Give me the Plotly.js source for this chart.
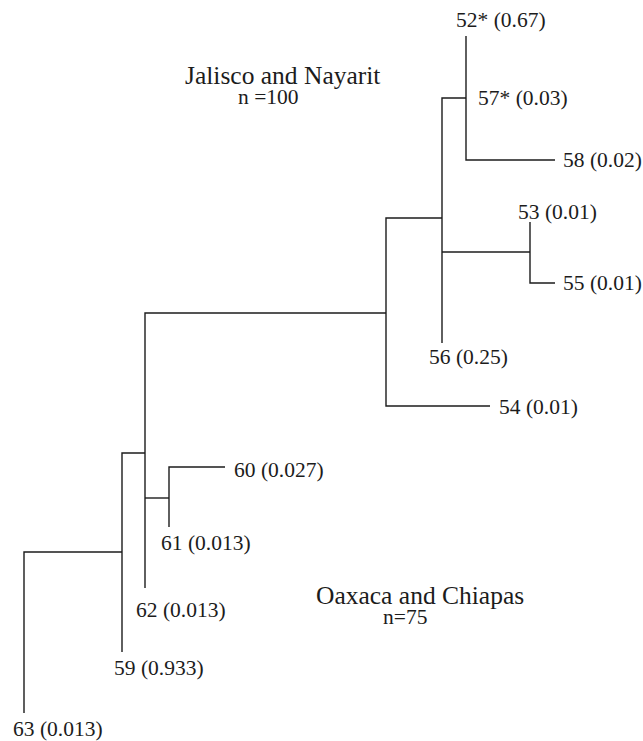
<!DOCTYPE html>
<html>
<head>
<meta charset="utf-8">
<script src="https://cdn.plot.ly/plotly-3.0.1.min.js"></script>
<style>html,body{margin:0;padding:0;background:#fff;}#chart{width:643px;height:741px;}</style>
</head>
<body>
<div id="chart"></div>
<script>
// Tree nodes (haplotypes and junctions), positions in drawing units
const nodeIds  = ['63','N1','59','N2','N3','62','N5','61','60','N4','54','N6','57','52','58','N7','56','N8','53','55'];
const nodeX    = [24, 122, 122, 145, 145, 145, 169, 169, 225, 386, 490, 442, 466, 466, 555, 442, 442, 530, 530, 555];
const nodeY    = [713, 552, 652, 453, 498, 588, 498, 527, 467, 313, 406, 218, 98, 36, 160, 252, 343, 252, 222, 283];
const parentOf = [null,'63','N1','N1','N2','N3','N3','N5','N5','N2','N4','N4','N6','57','57','N6','N7','N7','N8','N8'];

// Haplotype labels and frequencies
const haplotypes = ['52','53','54','55','56','57','58','59','60','61','62','63'];
const hapNames   = ['52*','53','54','55','56','57*','58','59','60','61','62','63'];
const frequencies = ['0.67','0.01','0.01','0.01','0.25','0.03','0.02','0.933','0.027','0.013','0.013','0.013'];

// Region labels
const regionNames = ['Jalisco and Nayarit', 'Oaxaca and Chiapas'];
const regionN     = ['n =100', 'n=75'];

// Label placement (pixel offsets from the node)
const labelPlacement = {
  '52': {dx: -12, dy: -16}, '53': {dx: -14, dy: -10}, '54': {dx: 7, dy: 1},
  '55': {dx: 6, dy: 0},     '56': {dx: -15, dy: 14},  '57': {dx: 10, dy: 0},
  '58': {dx: 6, dy: 0},     '59': {dx: -10, dy: 16},  '60': {dx: 7, dy: 3},
  '61': {dx: -10, dy: 16},  '62': {dx: -11, dy: 22},  '63': {dx: -13, dy: 16}
};
const regionPlacement = [
  {x: 282, y: 75, nx: 268, ny: 97},
  {x: 420, y: 595, nx: 405, ny: 617}
];

const FONT = 'Liberation Serif, Times New Roman, serif';
const INK = '#1c1c1c';

const idx = {};
nodeIds.forEach((id, i) => idx[id] = i);

const traces = [];
nodeIds.forEach((id, i) => {
  const p = parentOf[i];
  if (p === null) return;
  const j = idx[p];
  traces.push({
    type: 'scatter', mode: 'lines',
    x: [nodeX[j], nodeX[i]], y: [nodeY[j], nodeY[i]],
    line: {shape: 'vh', color: INK, width: 1.4},
    hoverinfo: 'skip', showlegend: false
  });
});

const annotations = [];
haplotypes.forEach((h, k) => {
  const i = idx[h];
  const pl = labelPlacement[h];
  annotations.push({
    x: nodeX[i], y: nodeY[i], xref: 'x', yref: 'y',
    text: hapNames[k] + ' (' + frequencies[k] + ')',
    showarrow: false, xanchor: 'left', yanchor: 'middle',
    xshift: pl.dx, yshift: -pl.dy,
    font: {family: FONT, size: 21.5, color: INK}
  });
});
regionNames.forEach((r, k) => {
  const rp = regionPlacement[k];
  annotations.push({
    x: rp.x, y: rp.y, xref: 'x', yref: 'y', text: r, showarrow: false,
    xanchor: 'center', yanchor: 'middle',
    font: {family: FONT, size: 25.5, color: INK}
  });
  annotations.push({
    x: rp.nx, y: rp.ny, xref: 'x', yref: 'y', text: regionN[k], showarrow: false,
    xanchor: 'center', yanchor: 'middle',
    font: {family: FONT, size: 21.5, color: INK}
  });
});

const layout = {
  width: 643, height: 741,
  margin: {l: 0, r: 0, t: 0, b: 0},
  paper_bgcolor: '#ffffff', plot_bgcolor: '#ffffff',
  xaxis: {range: [0, 643], visible: false, fixedrange: true},
  yaxis: {range: [741, 0], visible: false, fixedrange: true},
  annotations: annotations,
  showlegend: false
};

Plotly.newPlot('chart', traces, layout, {displayModeBar: false, staticPlot: true});
</script>
</body>
</html>
